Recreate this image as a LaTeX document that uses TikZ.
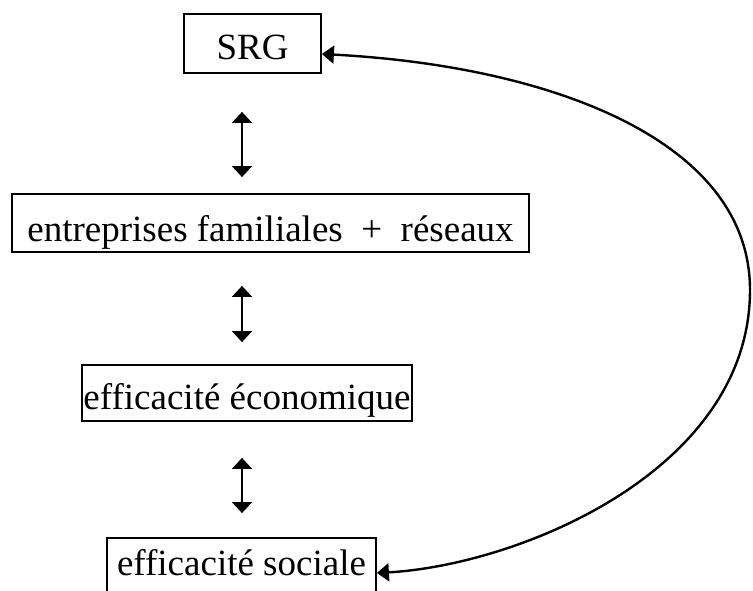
\documentclass[tikz,border=0pt]{standalone}
\usepackage{fontspec}
\setmainfont{Liberation Serif}
\usetikzlibrary{arrows.meta}
\begin{document}
\begin{tikzpicture}[x=1pt,y=-1pt,
  box/.style={draw, line width=1.8pt, inner sep=0pt, text height=32pt, text depth=0pt,
    font=\fontsize{37}{44}\selectfont},
  dblarrow/.style={line width=2pt, {Triangle[width=20pt,length=11pt]}-{Triangle[width=20pt,length=11pt]}},
  loop/.style={line width=2.4pt, {Triangle[width=18pt,length=12pt]}-{Triangle[width=18pt,length=12pt]}}]
  \clip (0,0) rectangle (753,591);
  \useasboundingbox (0,0) rectangle (753,591);

  % the four boxes, top to bottom
  \node[box, minimum width=137pt, minimum height=59pt] (srg) at (252.5,43.5) {SRG};
  \node[box, minimum width=517pt, minimum height=58pt, text height=36pt] (ent) at (270.5,223) {entreprises familiales \ + \ réseaux};
  \node[box, minimum width=330pt, minimum height=56pt] (eco) at (247,393) {efficacité économique};
  \node[box, minimum width=269pt, minimum height=58pt, text height=24pt, text depth=8pt] (soc) at (241.5,567) {efficacité sociale};

  % vertical double arrows between consecutive boxes
  \coordinate (ax) at (242,0);
  \draw[dblarrow, shorten <=38pt, shorten >=16pt] (srg.south -| ax) -- (ent.north -| ax);
  \draw[dblarrow, shorten <=33pt, shorten >=22pt] (ent.south -| ax) -- (eco.north -| ax);
  \draw[dblarrow, shorten <=36pt, shorten >=24pt] (eco.south -| ax) -- (soc.north -| ax);

  % feedback loop from the bottom box back to SRG
  \draw[loop] ([yshift=-10.5pt]srg.east)
    .. controls (550,66) and (750,140) .. (750,290)
    .. controls (750,470) and (520,565) .. ([yshift=-6pt]soc.east);
\end{tikzpicture}
\end{document}
